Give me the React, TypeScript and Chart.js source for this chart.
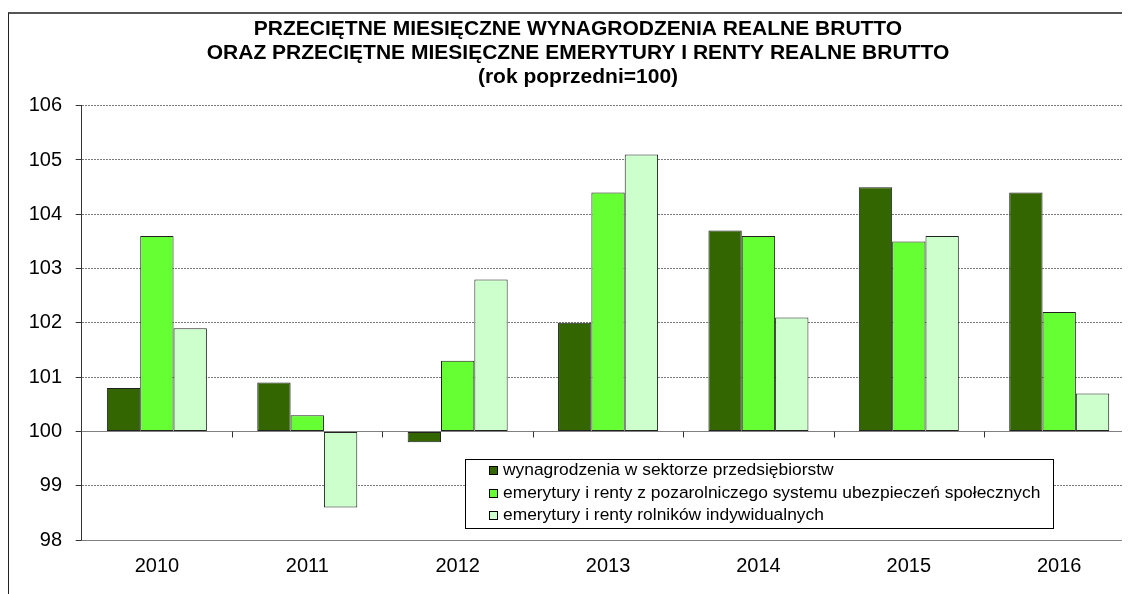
import React, { useEffect, useRef } from 'react';
import { Chart, registerables } from 'chart.js';

Chart.register(...registerables);

const FONT = "'Liberation Sans', Arial, Helvetica, sans-serif";

const categories = ['2010', '2011', '2012', '2013', '2014', '2015', '2016'];
const wynagrodzenia = [100.8, 100.9, 99.8, 102.0, 103.7, 104.5, 104.4];
const emeryturyPozarolnicze = [103.6, 100.3, 101.3, 104.4, 103.6, 103.5, 102.2];
const emeryturyRolnicy = [101.9, 98.6, 102.8, 105.1, 102.1, 103.6, 100.7];
const seriesLabels = [
  'wynagrodzenia w sektorze przedsiębiorstw',
  'emerytury i renty z pozarolniczego systemu ubezpieczeń społecznych',
  'emerytury i renty rolników indywidualnych',
];
const seriesColors = ['#336600', '#66FF33', '#CCFFCC'];
const titleLines = [
  'PRZECIĘTNE MIESIĘCZNE WYNAGRODZENIA REALNE BRUTTO',
  'ORAZ PRZECIĘTNE MIESIĘCZNE EMERYTURY I RENTY REALNE BRUTTO',
  '(rok poprzedni=100)',
];
const yMin = 98;
const yMax = 106;
const yStep = 1;
const baseValue = 100;

export default function App() {
  const ref = useRef<HTMLCanvasElement>(null);

  useEffect(() => {
    document.documentElement.style.overflow = 'hidden';
    document.body.style.overflow = 'hidden';
    const canvas = ref.current!;

    const axisLinesPlugin = {
      id: 'axisLines',
      beforeDatasetsDraw(chart: any) {
        const { ctx, chartArea } = chart;
        const ys = chart.scales.y;
        const xs = chart.scales.x;
        ctx.save();
        ctx.strokeStyle = '#808080';
        ctx.lineWidth = 1;
        ctx.setLineDash([]);
        const yb = Math.round(ys.getPixelForValue(baseValue)) + 0.5;
        const yBottom = Math.round(ys.getPixelForValue(yMin)) + 0.5;
        ctx.beginPath();
        ctx.moveTo(chartArea.left, yb);
        ctx.lineTo(chartArea.right, yb);
        ctx.moveTo(chartArea.left, yBottom);
        ctx.lineTo(chartArea.right, yBottom);
        ctx.stroke();
        // category boundary tick marks on the base line
        ctx.strokeStyle = '#333';
        ctx.beginPath();
        const n = categories.length;
        for (let i = 0; i < n; i++) {
          const c = xs.getPixelForValue(i);
          const next = i < n - 1 ? xs.getPixelForValue(i + 1) : c + (c - xs.getPixelForValue(i - 1));
          const bx = Math.round((c + next) / 2) + 0.5;
          ctx.moveTo(bx, yb);
          ctx.lineTo(bx, yb + 6);
        }
        ctx.stroke();
        ctx.restore();
      },
    };

    const legendBoxPlugin = {
      id: 'legendBox',
      afterDraw(chart: any) {
        const { ctx } = chart;
        const left = 456.5;
        const top = 445.5;
        const w = 588;
        const h = 69;
        ctx.save();
        ctx.fillStyle = '#fff';
        ctx.fillRect(left, top, w, h);
        ctx.strokeStyle = '#000';
        ctx.lineWidth = 1;
        ctx.setLineDash([]);
        ctx.strokeRect(left, top, w, h);
        ctx.font = `17.4px ${FONT}`;
        ctx.textBaseline = 'alphabetic';
        ctx.textAlign = 'left';
        chart.data.datasets.forEach((ds: any, i: number) => {
          const baseline = 461 + i * 22.5;
          const my = baseline - 4.4;
          ctx.fillStyle = ds.backgroundColor;
          ctx.fillRect(480.5, Math.round(my - 4.5) + 0.5, 8, 8);
          ctx.strokeStyle = '#000';
          ctx.strokeRect(480.5, Math.round(my - 4.5) + 0.5, 8, 8);
          ctx.fillStyle = '#000';
          ctx.fillText(ds.label, 494, baseline);
        });
        ctx.restore();
      },
    };

    const chart = new Chart(canvas, {
      type: 'bar',
      data: {
        labels: categories,
        datasets: [wynagrodzenia, emeryturyPozarolnicze, emeryturyRolnicy].map((d, i) => ({
          label: seriesLabels[i],
          data: d,
          base: baseValue,
          backgroundColor: seriesColors[i],
          borderColor: '#222',
          borderWidth: 1,
          borderSkipped: false,
          categoryPercentage: 0.665,
          barPercentage: 1,
        })),
      },
      options: {
        responsive: false,
        animation: false,
        layout: { padding: { left: 12.6, right: 34.6, top: 0, bottom: 0 } },
        plugins: {
          legend: { display: false },
          tooltip: { enabled: false },
          title: {
            display: true,
            text: titleLines,
            color: '#000',
            font: { family: FONT, size: 21, weight: 'bold', lineHeight: 24 / 21 },
            padding: { top: 3.7, bottom: 16 },
          },
        },
        scales: {
          x: {
            type: 'category',
            grid: { display: false, drawTicks: false },
            border: { display: true, color: '#808080', width: 1 },
            ticks: {
              color: '#000',
              font: { family: FONT, size: 20 },
              padding: 14,
              maxRotation: 0,
              autoSkip: false,
            },
            afterFit: (s: any) => {
              s.height = 54;
            },
          },
          y: {
            min: yMin,
            max: yMax,
            ticks: {
              stepSize: yStep,
              color: '#000',
              font: { family: FONT, size: 20 },
              padding: 13.7,
            },
            grid: {
              color: '#7a7a7a',
              lineWidth: 1,
              drawTicks: true,
              tickLength: 6,
              tickColor: '#333',
            },
            border: { display: true, color: '#333', width: 1, dash: [2, 1] },
            afterFit: (s: any) => {
              s.width = 60.1;
            },
          },
        },
      },
      plugins: [axisLinesPlugin, legendBoxPlugin],
    } as any);

    return () => chart.destroy();
  }, []);

  return (
    <div style={{ paddingTop: 4 }}>
      <div
        style={{
          borderTop: '2px solid #555',
          borderLeft: '1px solid #222',
          width: 1121,
          height: 580,
          overflow: 'hidden',
        }}
      >
        <canvas ref={ref} width={1160} height={580} style={{ display: 'block' }} />
      </div>
    </div>
  );
}
